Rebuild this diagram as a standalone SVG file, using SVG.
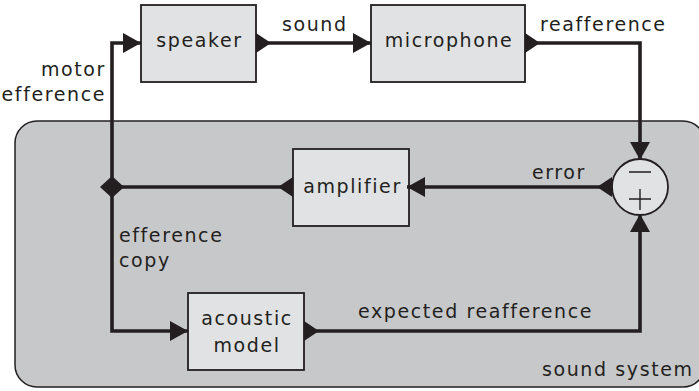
<svg xmlns="http://www.w3.org/2000/svg" width="699" height="391" viewBox="0 0 699 391">
<style>
text{font-family:"DejaVu Sans","Liberation Sans",sans-serif;font-size:19px;letter-spacing:1.6px;fill:#231f20}
.box{fill:#e1e2e4;stroke:#231f20;stroke-width:1.8}
.mid{text-anchor:middle}
.end{text-anchor:end}
.wire{fill:none;stroke:#231f20;stroke-width:3.6;stroke-linejoin:miter}
.sign{stroke:#231f20;stroke-width:1.4;fill:none}
</style>
<defs>
<marker id="arr" viewBox="0 -11 20 22" markerWidth="20" markerHeight="22" refX="18" refY="0" orient="auto" markerUnits="userSpaceOnUse"><path d="M0,-10 L18,0 L0,10 z" fill="#231f20"/></marker>
<marker id="src" viewBox="0 -11 16 22" markerWidth="16" markerHeight="22" refX="0" refY="0" orient="auto" markerUnits="userSpaceOnUse"><path d="M0,-10 L15,0 L0,10 z" fill="#231f20"/></marker>
</defs>
<g id="sound-system">
<rect x="15" y="121" width="690" height="266" rx="22" ry="22" fill="#c7c8ca" stroke="#231f20" stroke-width="1.5"/>
<text x="542" y="376">sound system</text>
</g>
<g id="speaker"><rect class="box" x="141" y="5" width="115" height="77"/><text class="mid" x="199.5" y="47">speaker</text></g>
<g id="microphone"><rect class="box" x="371" y="5" width="154" height="77"/><text class="mid" x="449" y="47">microphone</text></g>
<g id="amplifier"><rect class="box" x="293" y="149" width="116" height="77"/><text class="mid" x="352.5" y="193">amplifier</text></g>
<g id="acoustic-model"><rect class="box" x="188" y="293" width="116" height="77"/><text class="mid" x="247" y="325">acoustic</text><text class="mid" x="247" y="352">model</text></g>
<g id="comparator"><circle cx="640" cy="187" r="28" fill="#e1e2e4" stroke="#231f20" stroke-width="1.8"/><path class="sign" d="M629,172 H651 M629,199 H651 M640,189 V210"/></g>
<g id="connectors">
<path class="wire" d="M112,187 V43 H141" marker-end="url(#arr)"/>
<path class="wire" d="M256,43 H371" marker-start="url(#src)" marker-end="url(#arr)"/>
<path class="wire" d="M525,43 H640 V160" marker-start="url(#src)" marker-end="url(#arr)"/>
<path class="wire" d="M612,187 H407" marker-start="url(#src)" marker-end="url(#arr)"/>
<path class="wire" d="M293,187 H112" marker-start="url(#src)"/>
<path class="wire" d="M112,187 V331 H188" marker-end="url(#arr)"/>
<path class="wire" d="M304,331 H640 V214" marker-start="url(#src)" marker-end="url(#arr)"/>
<polygon points="100,187 112,176 124,187 112,198" fill="#231f20"/>
</g>
<g id="labels">
<text x="282" y="31">sound</text>
<text x="540" y="31">reafference</text>
<text class="end" x="106" y="76">motor</text>
<text class="end" x="106" y="101">efference</text>
<text x="532" y="179">error</text>
<text x="119" y="242">efference</text>
<text x="119" y="267">copy</text>
<text x="358" y="318">expected reafference</text>
</g>
</svg>
